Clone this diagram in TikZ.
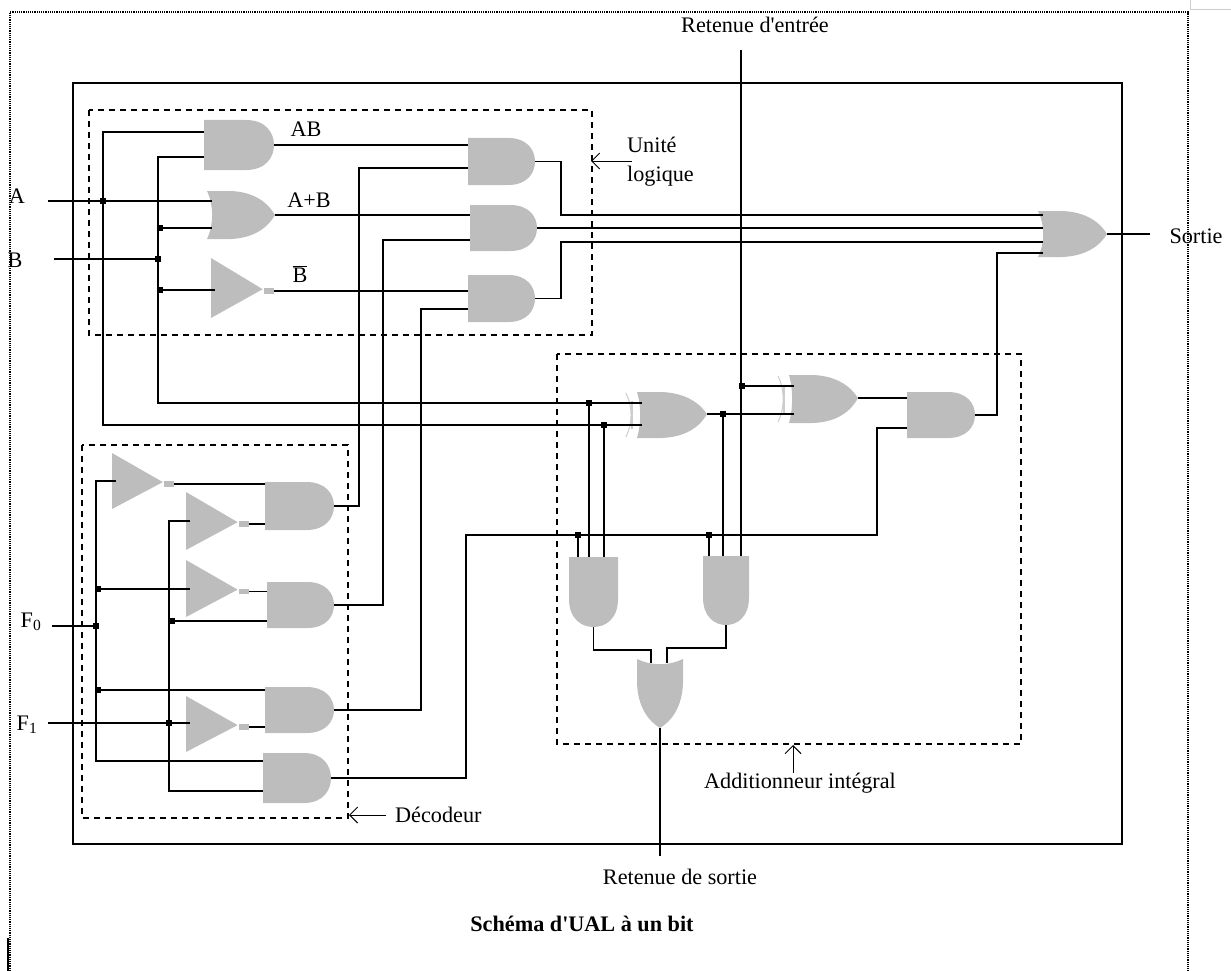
\documentclass[tikz,border=0pt]{standalone}
\usepackage{fontspec}
\setmainfont[Ligatures=TeXOff]{Liberation Serif}
\usetikzlibrary{arrows.meta}
\definecolor{gatecol}{RGB}{189,189,189}
\definecolor{arccol}{RGB}{205,205,205}
\tikzset{
  wire/.style={line width=1.7pt},
  dashbox/.style={line width=1.3pt, dash pattern=on 6pt off 5pt},
  note/.style={line width=0.9pt, -{Straight Barb[length=8pt,width=16pt]}},
  lbl/.style={inner sep=0pt, font=\fontsize{22.2}{26}\selectfont},
  jdot/.style={fill=black, inner sep=0pt, minimum size=6pt},
  gatefill/.style={fill=gatecol},
  pics/andg/.style={code={\begin{scope}[#1]
    \fill[gatefill] (0,0) -- (.6,0) .. controls (.88,0) and (1,.25) .. (1,.5) .. controls (1,.75) and (.88,1) .. (.6,1) -- (0,1) -- cycle;
    \coordinate (-w) at (0,.5);
    \coordinate (-e) at (1,.5);
  \end{scope}}},
  pics/org/.style={code={\begin{scope}[#1]
    \fill[gatefill] (0,0) -- (.35,0) .. controls (.7,.02) and (.9,.25) .. (1,.5) .. controls (.9,.75) and (.7,.98) .. (.35,1) -- (0,1) .. controls (.1,.7) and (.1,.3) .. (0,0) -- cycle;
    \coordinate (-w) at (.07,.5);
    \coordinate (-e) at (1,.5);
  \end{scope}}},
  pics/xorg/.style={code={\begin{scope}[#1]
    \fill[gatefill] (0,0) -- (.35,0) .. controls (.7,.02) and (.9,.25) .. (1,.48) .. controls (.9,.75) and (.7,.98) .. (.35,1) -- (0,1) .. controls (.06,.7) and (.06,.3) .. (0,0) -- cycle;
    \draw[arccol, line width=1pt] (-.16,.02) .. controls (-.06,.3) and (-.06,.7) .. (-.16,.98);
    \draw[arccol, line width=1.6pt] (-.07,.2) -- (-.07,.8);
    \coordinate (-w) at (.07,.5);
    \coordinate (-e) at (1,.48);
  \end{scope}}},
  pics/notg/.style={code={\begin{scope}[#1]
    \fill[gatefill] (0,0) -- (.82,.52) -- (0,1) -- cycle;
    \fill[gatefill] (.84,.5) rectangle (1,.6);
    \coordinate (-w) at (.07,.5);
    \coordinate (-e) at (1,.55);
  \end{scope}}}
}
\begin{document}
\begin{tikzpicture}[x=1pt,y=-1pt]
  \useasboundingbox (0,0) rectangle (1231,971);
  % page
  \draw[line width=1.2pt, densely dotted] (10,971) -- (10,12) -- (1188,12) -- (1188,971);
  \draw[arccol, line width=1pt] (1190,0) -- (1190,10) -- (1231,10);
  \draw[line width=2pt] (8,938) -- (8,971);
  \draw[line width=1.6pt] (73,83) rectangle (1122,844);
  \draw[dashbox] (89,110) rectangle (592,335);
  \draw[dashbox] (82,445) rectangle (348,818);
  \draw[dashbox] (557,354) rectangle (1021,744);
  % gates
  \pic (uAB) at (204,120) {andg={x=70pt,y=-50pt}};
  \pic (uOr) at (207,191) {org={x=68pt,y=-48pt}};
  \pic (uNotB) at (211,258) {notg={x=63pt,y=-60pt}};
  \pic (uU1) at (468,138) {andg={x=67pt,y=-47pt}};
  \pic (uU2) at (470,205) {andg={x=67pt,y=-46pt}};
  \pic (uU3) at (468,275) {andg={x=67pt,y=-47pt}};
  \pic (uS) at (1038,211) {org={x=69pt,y=-46pt}};
  \pic (uN1) at (112,453) {notg={x=62pt,y=-56pt}};
  \pic (uN2) at (186,492) {notg={x=63pt,y=-58pt}};
  \pic (uN3) at (186,560) {notg={x=63pt,y=-57pt}};
  \pic (uN4) at (186,696) {notg={x=63pt,y=-56pt}};
  \pic (uD1) at (265,482) {andg={x=69pt,y=-48pt}};
  \pic (uD2) at (267,582) {andg={x=67pt,y=-46pt}};
  \pic (uD3) at (265,687) {andg={x=69pt,y=-46pt}};
  \pic (uD4) at (263,753) {andg={x=68pt,y=-50pt}};
  \pic (uX1) at (637,392) {xorg={x=70pt,y=-46pt}};
  \pic (uX2) at (789,375) {xorg={x=69pt,y=-48pt}};
  \pic (uSum) at (907,392) {andg={x=68pt,y=-46pt}};
  \pic (uA1) at (569,557) {andg={x={(0pt,-70pt)},y={(49pt,0pt)}}};
  \pic (uA2) at (703,556) {andg={x={(0pt,-69pt)},y={(46pt,0pt)}}};
  \pic (uO) at (637,659) {org={x={(0pt,-69pt)},y={(46pt,0pt)}}};
  % junctions
  \node[jdot] (jA) at (103,201) {};
  \node[jdot] (jB) at (158,259) {};
  \node[jdot] (jB1) at (160,228) {};
  \node[jdot] (jB2) at (160,290) {};
  \node[jdot] (jF0) at (96,626) {};
  \node[jdot] (jF0a) at (98,589) {};
  \node[jdot] (jF0b) at (98,690) {};
  \node[jdot] (jF1) at (169,723) {};
  \node[jdot] (jF1a) at (172,621) {};
  \node[jdot] (jXa) at (589,403) {};
  \node[jdot] (jXb) at (604,425) {};
  \node[jdot] (jXo) at (723,414) {};
  \node[jdot] (jRe) at (742,386) {};
  \node[jdot] (jC1) at (578,535) {};
  \node[jdot] (jC2) at (709,535) {};
  % wire ends
  \coordinate (inA) at (48,201);
  \coordinate (inB) at (54,259);
  \coordinate (inF0) at (52,626);
  \coordinate (inF1) at (48,723);
  \coordinate (topA) at (103,132);
  \coordinate (botA) at (103,425);
  \coordinate (topB) at (158,157);
  \coordinate (botB) at (158,403);
  \coordinate (tF0) at (96,481);
  \coordinate (botF0) at (96,761);
  \coordinate (tF1) at (169,521);
  \coordinate (botF1) at (169,791);
  \coordinate (sU1) at (561,215);
  \coordinate (sU3) at (561,242);
  \coordinate (tD1) at (359,168);
  \coordinate (tD2) at (383,240);
  \coordinate (tD3) at (421,309);
  \coordinate (tC) at (466,535);
  \coordinate (tCe) at (877,535);
  \coordinate (tCu) at (877,428);
  \coordinate (tSum) at (997,253);
  \coordinate (outS) at (1150,234);
  \coordinate (tRe) at (741,50);
  \coordinate (kM1) at (651,650);
  \coordinate (kO1) at (651,663);
  \coordinate (kM2) at (667,648);
  \coordinate (kO2) at (667,663);
  \coordinate (outC) at (660,856);
  % wires
  \draw[wire] (inA) -- (inA -| uOr-w);
  \draw[wire] (inB) -- (jB);
  \draw[wire] (uAB-w |- topA) -- (topA) -- (botA) -- (botA -| uX1-w);
  \draw[wire] (uAB-w |- topB) -- (topB) -- (botB) -- (botB -| uX1-w);
  \draw[wire] (jB1) -- (jB1 -| uOr-w);
  \draw[wire] (jB2) -- (jB2 -| uNotB-w);
  \draw[wire] (uAB-e) -- (uAB-e -| uU1-w);
  \draw[wire] (uOr-e) -- (uOr-e -| uU2-w);
  \draw[wire] (uNotB-e) -- (uNotB-e -| uU3-w);
  \draw[wire] (uU1-e) -| (sU1) -- (sU1 -| uS-w);
  \draw[wire] (uU2-e) -- (uU2-e -| uS-w);
  \draw[wire] (uU3-e) -| (sU3) -- (sU3 -| uS-w);
  \draw[wire] (uS-e) -- (uS-e -| outS);
  \draw[wire] (uN1-w) -- (tF0) -- (botF0) -- (botF0 -| uD4-w);
  \draw[wire] (uN2-w) -- (tF1) -- (botF1) -- (botF1 -| uD4-w);
  \draw[wire] (inF0) -- (jF0);
  \draw[wire] (inF1) -- (inF1 -| uN4-w);
  \draw[wire] (jF0a) -- (jF0a -| uN3-w);
  \draw[wire] (jF0b) -- (jF0b -| uD3-w);
  \draw[wire] (jF1a) -- (jF1a -| uD2-w);
  \draw[wire] (uN1-e) -- (uN1-e -| uD1-w);
  \draw[wire] (uN2-e) -- (uN2-e -| uD1-w);
  \draw[wire] (uN3-e) -- (uN3-e -| uD2-w);
  \draw[wire] (uN4-e) -- (uN4-e -| uD3-w);
  \draw[wire] (uD1-e) -| (tD1) -- (tD1 -| uU1-w);
  \draw[wire] (uD2-e) -| (tD2) -- (tD2 -| uU2-w);
  \draw[wire] (uD3-e) -| (tD3) -- (tD3 -| uU3-w);
  \draw[wire] (uD4-e) -| (tC) -- (tCe) -- (tCu) -- (tCu -| uSum-w);
  \draw[wire] (uX1-e) -- (uX1-e -| uX2-w);
  \draw[wire] (uX2-e) -- (uX2-e -| uSum-w);
  \draw[wire] (uSum-e) -| (tSum) -- (tSum -| uS-w);
  \draw[wire] (tRe) -- (tRe |- uA2-w);
  \draw[wire] (jRe) -- (jRe -| uX2-w);
  \draw[wire] (jXa) -- (jXa |- uA1-w);
  \draw[wire] (jXb) -- (jXb |- uA1-w);
  \draw[wire] (jXo) -- (jXo |- uA2-w);
  \draw[wire] (jC1) -- (jC1 |- uA1-w);
  \draw[wire] (jC2) -- (jC2 |- uA2-w);
  \draw[wire] (uA1-e) |- (kM1) -- (kO1);
  \draw[wire] (uA2-e) |- (kM2) -- (kO2);
  \draw[wire] (uO-e) -- (outC);
  % labels
  \node[lbl] (lblRe) at (755,25) {Retenue d'entrée};
  \node[lbl] (lblA) at (17,196) {A};
  \node[lbl] (lblB) at (15,260) {B};
  \node[lbl] (lblAB) at (306,129) {AB};
  \node[lbl] (lblOr) at (309,200) {A+B};
  \node[lbl] (lblNot) at (300,274) {$\overline{\mbox{B}}$};
  \node[lbl] (lblS) at (1196,236) {Sortie};
  \node[lbl] (lblF0) at (31,622) {F\textsubscript{0}};
  \node[lbl] (lblF1) at (27,725) {F\textsubscript{1}};
  \node[lbl, align=left, anchor=west] (lblUL) at (627,162) {Unité\\[3pt]logique};
  \node[lbl, anchor=west] (lblDec) at (395,815) {Décodeur};
  \node[lbl] (lblAdd) at (800,783) {Additionneur intégral};
  \node[lbl] (lblRs) at (680,877) {Retenue de sortie};
  \node[lbl, font=\fontsize{22.2}{26}\selectfont\bfseries] (lblTitle) at (582,924) {Schéma d'UAL à un bit};
  % arrows to the dashed boxes
  \coordinate (tailUL) at (632,161);
  \coordinate (tipUL) at (591,161);
  \coordinate (tailDec) at (386,815);
  \coordinate (tipDec) at (349,815);
  \coordinate (tipAdd) at (793,745);
  \draw[note] (tailUL) -- (tipUL);
  \draw[note] (tailDec) -- (tipDec);
  \draw[note] (tipAdd |- lblAdd.north) -- (tipAdd);
\end{tikzpicture}
\end{document}
